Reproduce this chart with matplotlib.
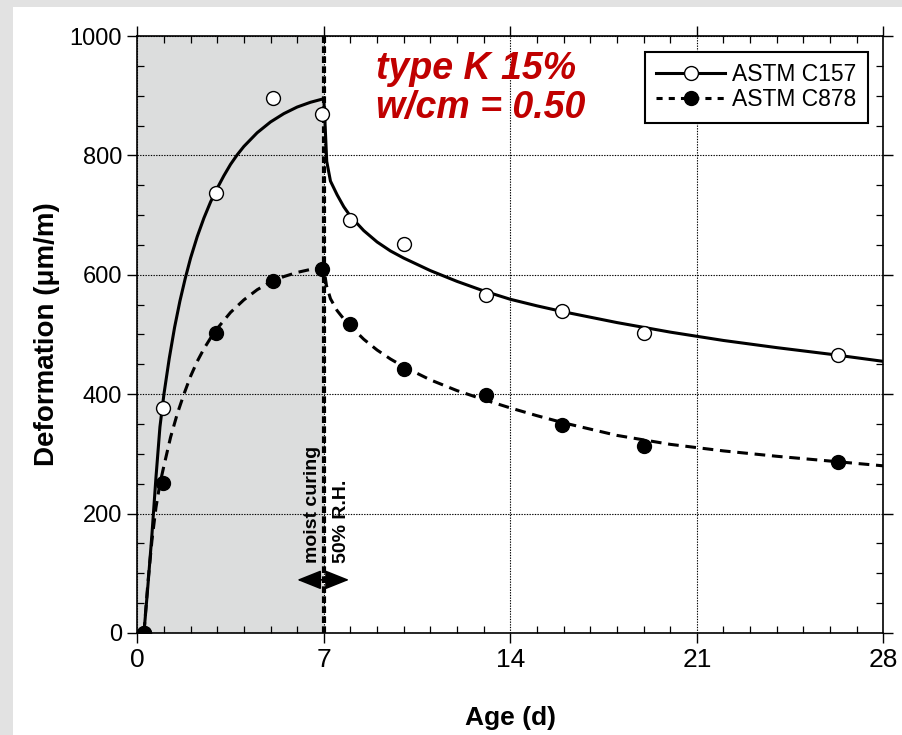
import matplotlib
matplotlib.use("Agg")
import matplotlib.pyplot as plt
from matplotlib import font_manager
from matplotlib.lines import Line2D
from matplotlib.patches import Rectangle
from matplotlib.ticker import MultipleLocator

# measured points
age_pts = [0.25, 0.95, 2.95, 5.1, 6.92, 8.0, 10.0, 13.1, 15.95, 19.0, 26.3]
c157_pts = [0, 377, 737, 896, 869, 691, 652, 567, 540, 503, 466]
c878_pts = [0, 252, 502, 590, 610, 517, 442, 398, 348, 314, 287]

# fitted curves
c157_fit_age = [0.25, 0.4, 0.55, 0.7, 0.85, 1.0, 1.2, 1.4, 1.6, 1.8, 2.0, 2.25, 2.5,
                2.75, 3.0, 3.25, 3.5, 3.75, 4.0, 4.5, 5.0, 5.5, 6.0, 6.5, 7.0,
                7.04, 7.11, 7.25, 7.5, 7.75, 8.0, 8.5, 9.0, 9.5, 10, 11, 12, 13,
                14, 15, 16, 18, 20, 22, 24, 26, 28]
c157_fit = [0, 80, 165, 260, 345, 400, 460, 512, 556, 594, 628, 664, 695,
            722, 745, 766, 785, 801, 815, 838, 856, 870, 881, 889, 895,
            860, 790, 757, 734, 714, 698, 674, 655, 640, 628, 607, 589, 573,
            559, 548, 538, 520, 504, 490, 478, 467, 455]

c878_fit_age = [0.25, 0.4, 0.55, 0.7, 0.85, 1.0, 1.25, 1.5, 1.75, 2.0, 2.25, 2.5,
                2.75, 3.0, 3.5, 4.0, 4.5, 5.0, 5.5, 6.0, 6.5, 7.0,
                7.1, 7.25, 7.5, 7.75, 8.0, 8.5, 9.0, 9.5, 10, 11, 12, 13, 14,
                15, 16, 18, 20, 22, 24, 26, 28]
c878_fit = [0, 85, 155, 210, 250, 280, 328, 367, 400, 430, 455, 476,
            494, 510, 537, 558, 575, 588, 597, 604, 609, 612,
            582, 560, 540, 526, 514, 492, 474, 459, 446, 424, 406, 391, 377,
            364, 352, 331, 316, 305, 296, 288, 280]

xticks = [0, 7, 14, 21, 28]
yticks = [0, 200, 400, 600, 800, 1000]

installed = {f.name for f in font_manager.fontManager.ttflist}
narrow = "Liberation Sans Narrow" in installed
xfont = "Liberation Sans Narrow" if narrow else "Liberation Sans"
xsize = 23 if narrow else 19

plt.rcParams["font.family"] = ["Liberation Sans", "DejaVu Sans"]

fig = plt.figure(figsize=(9.02, 7.35), dpi=100)
fig.patch.set_facecolor("#e2e2e2")
fig.patches.append(Rectangle((13 / 902, 0), 1, 1 - 7 / 735, transform=fig.transFigure,
                             facecolor="white", edgecolor="none", zorder=-10))

ax = fig.add_axes([0.1522, 0.1388, 0.8271, 0.8122])
ax.set_xlim(0, 28)
ax.set_ylim(0, 1000)
ax.set_facecolor("white")

# moist curing zone
ax.axvspan(0, 7, color="#dcdddd", zorder=0, lw=0)

ax.grid(True, which="major", color="black", lw=0.8, ls=(0, (1.2, 1.2)), zorder=1)

ax.plot(c157_fit_age, c157_fit, color="black", lw=2.2, zorder=3)
ax.plot(c878_fit_age, c878_fit, color="black", lw=2.2, ls=(0, (3.5, 2.2)), zorder=3)

ax.axvline(7, color="black", lw=3.0, ls=(0, (1.6, 0.8)), zorder=4)

ax.plot(age_pts, c157_pts, "o", ms=10, mfc="white", mec="black", mew=1.0, zorder=5)
ax.plot(age_pts, c878_pts, "o", ms=10, mfc="black", mec="black", mew=1.0, zorder=6)

ax.annotate("", xy=(6.0, 89), xytext=(7.95, 89),
            arrowprops=dict(arrowstyle="<|-|>,head_length=1.5,head_width=0.6",
                            color="black", lw=1.2, shrinkA=0, shrinkB=0), zorder=6)
ax.text(6.88, 117, "moist curing", rotation=90, ha="right", va="bottom",
        fontsize=14, fontweight="bold", zorder=6)
ax.text(7.35, 117, "50% R.H.", rotation=90, ha="left", va="bottom",
        fontsize=14, fontweight="bold", zorder=6)

ax.text(8.95, 975, "type K 15%\nw/cm = 0.50", color="#c00000", fontsize=27,
        fontweight="bold", fontstyle="italic", ha="left", va="top",
        linespacing=1.1, zorder=6)

ax.set_xticks(xticks)
ax.set_yticks(yticks)
ax.xaxis.set_minor_locator(MultipleLocator(1))
ax.yaxis.set_minor_locator(MultipleLocator(50))
ax.tick_params(which="major", direction="out", length=7, width=1.0,
               top=True, right=True, labelsize=17, pad=4)
ax.tick_params(which="minor", direction="in", length=5, width=0.9,
               top=True, right=True)
for lab in ax.get_xticklabels():
    lab.set_family([xfont, "DejaVu Sans"])
    lab.set_fontsize(xsize)
for s in ax.spines.values():
    s.set_linewidth(1.2)

ax.set_xlabel("Age (d)", fontsize=xsize, fontweight="bold",
              family=[xfont, "DejaVu Sans"], labelpad=24)
ax.set_ylabel("Deformation (μm/m)", fontsize=20, fontweight="bold", labelpad=7)

handles = [
    Line2D([], [], color="black", lw=2.2, marker="o", ms=10, mfc="white", mec="black"),
    Line2D([], [], color="black", lw=2.2, ls=(0, (2, 2)), marker="o", ms=10,
           mfc="black", mec="black"),
]
leg = ax.legend(handles, ["ASTM C157", "ASTM C878"], loc="upper right",
                bbox_to_anchor=(0.979, 0.974), borderaxespad=0, fontsize=16.5,
                handlelength=3.0, handletextpad=0.3, labelspacing=0.1,
                borderpad=0.5, fancybox=False, framealpha=1, edgecolor="black")
leg.get_frame().set_linewidth(1.5)
leg.set_zorder(7)

fig.savefig("out.png", dpi=100, facecolor=fig.get_facecolor())
